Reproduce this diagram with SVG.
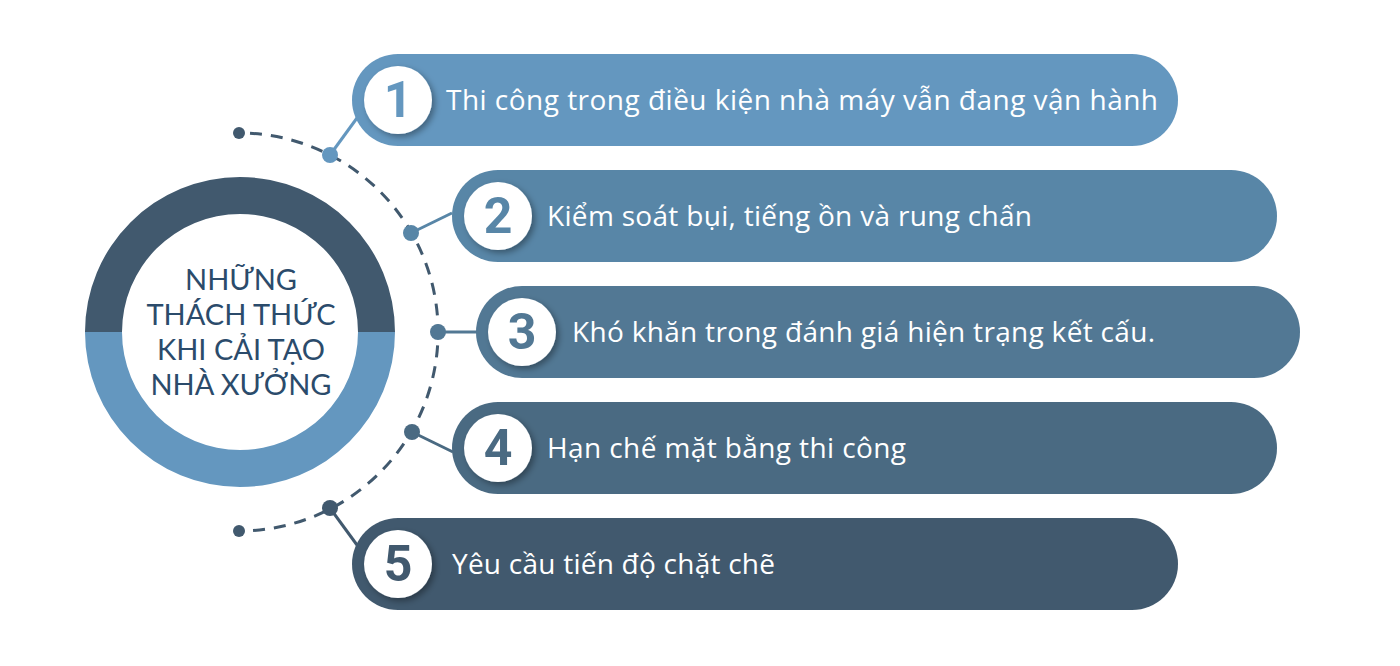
<svg xmlns="http://www.w3.org/2000/svg" width="1400" height="666" viewBox="0 0 1400 666">
<defs>
<filter id="sh" x="-30%" y="-30%" width="160%" height="160%">
<feDropShadow dx="3" dy="3" stdDeviation="3" flood-color="#000" flood-opacity="0.35"/>
</filter>
<style>
.lbl{font-family:"Open Sans","Noto Sans",sans-serif;font-size:28px;fill:#fff}
.num{font-family:"Roboto","Liberation Sans",sans-serif;font-weight:bold;font-size:50px;text-anchor:middle}
.ctr{font-family:"Lato","Noto Sans",sans-serif;font-size:29px;fill:#2B4B6B;text-anchor:middle}
.dash{fill:none;stroke:#41596E;stroke-width:3;stroke-dasharray:12 9}
</style>
</defs>
<rect width="1400" height="666" fill="#fff"/>
<g id="center">
<path d="M85,332 A155,155 0 0 1 395,332 L358,332 A118,118 0 0 0 122,332 Z" fill="#41596E"/>
<path d="M85,332 A155,155 0 0 0 395,332 L358,332 A118,118 0 0 1 122,332 Z" fill="#6497BF"/>
<text class="ctr" x="241" y="290">NHỮNG</text>
<text class="ctr" x="241" y="325">THÁCH THỨC</text>
<text class="ctr" x="241" y="360">KHI CẢI TẠO</text>
<text class="ctr" x="241" y="395">NHÀ XƯỞNG</text>
</g>
<g id="connectors">
<path class="dash" d="M250,133.3 A199,199 0 0 1 250,530.7"/>
<circle cx="239" cy="133" r="6" fill="#41596E"/>
<circle cx="239" cy="531" r="6" fill="#41596E"/>
<line x1="330" y1="155" x2="357" y2="118" stroke="#6497BF" stroke-width="3"/>
<circle cx="330" cy="155" r="8" fill="#6497BF"/>
<line x1="411" y1="233" x2="452" y2="213" stroke="#5886A7" stroke-width="3"/>
<circle cx="411" cy="233" r="8" fill="#5886A7"/>
<line x1="438" y1="332" x2="478" y2="332" stroke="#527894" stroke-width="3"/>
<circle cx="438" cy="332" r="8" fill="#527894"/>
<line x1="412" y1="432" x2="453" y2="452" stroke="#4A6A82" stroke-width="3"/>
<circle cx="412" cy="432" r="8" fill="#4A6A82"/>
<line x1="330" y1="508" x2="357" y2="545" stroke="#41596E" stroke-width="3"/>
<circle cx="330" cy="508" r="8" fill="#41596E"/>
</g>
<g id="item1">
<rect x="352" y="54" width="826" height="92" rx="46" fill="#6497BF"/>
<circle cx="398" cy="100" r="34" fill="#fff" filter="url(#sh)"/>
<text class="num" x="398" y="117" fill="#6497BF">1</text>
<text class="lbl" x="446" y="110" textLength="712" lengthAdjust="spacing">Thi công trong điều kiện nhà máy vẫn đang vận hành</text>
</g>
<g id="item2">
<rect x="452" y="170" width="825" height="92" rx="46" fill="#5886A7"/>
<circle cx="498" cy="216" r="34" fill="#fff" filter="url(#sh)"/>
<text class="num" x="498" y="233" fill="#5886A7">2</text>
<text class="lbl" x="547" y="226" textLength="485" lengthAdjust="spacing">Kiểm soát bụi, tiếng ồn và rung chấn</text>
</g>
<g id="item3">
<rect x="476" y="286" width="824" height="92" rx="46" fill="#527894"/>
<circle cx="522" cy="332" r="34" fill="#fff" filter="url(#sh)"/>
<text class="num" x="522" y="349" fill="#527894">3</text>
<text class="lbl" x="572" y="342" textLength="583" lengthAdjust="spacing">Khó khăn trong đánh giá hiện trạng kết cấu.</text>
</g>
<g id="item4">
<rect x="452" y="402" width="825" height="92" rx="46" fill="#4A6A82"/>
<circle cx="498" cy="448" r="34" fill="#fff" filter="url(#sh)"/>
<text class="num" x="498" y="465" fill="#4A6A82">4</text>
<text class="lbl" x="547" y="458" textLength="359" lengthAdjust="spacing">Hạn chế mặt bằng thi công</text>
</g>
<g id="item5">
<rect x="352" y="518" width="826" height="92" rx="46" fill="#41596E"/>
<circle cx="398" cy="564" r="34" fill="#fff" filter="url(#sh)"/>
<text class="num" x="398" y="581" fill="#41596E">5</text>
<text class="lbl" x="452" y="574" textLength="323" lengthAdjust="spacing">Yêu cầu tiến độ chặt chẽ</text>
</g>
</svg>
